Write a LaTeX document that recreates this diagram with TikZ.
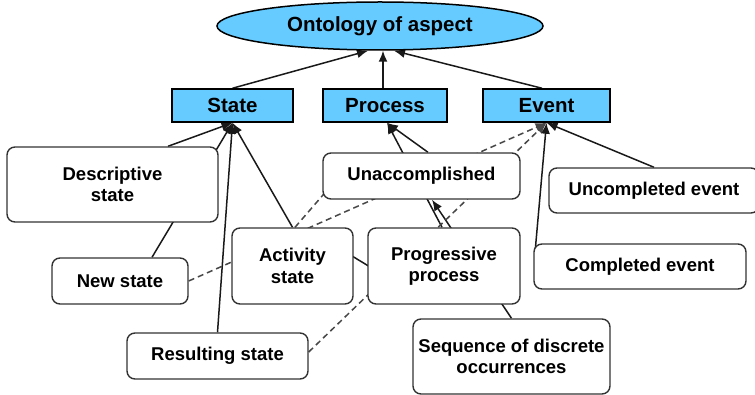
\documentclass[tikz,border=0pt]{standalone}
\usepackage{fontspec}
\setmainfont{Liberation Sans}
\usetikzlibrary{shapes.geometric,arrows.meta,calc}
\pgfdeclarelayer{bg}
\pgfsetlayers{bg,main}
\definecolor{skyfill}{RGB}{102,204,255}
\definecolor{inkline}{RGB}{25,25,25}
\begin{document}
\begin{tikzpicture}[x=1pt,y=-1pt,
  topic/.style={draw=black, line width=1.5pt, fill=skyfill, inner sep=0pt,
    font=\fontsize{20.5}{24}\selectfont\bfseries},
  concept/.style={draw=black!80, line width=1.4pt, fill=white, rounded corners=8pt,
    inner sep=0pt, align=center, font=\fontsize{18.5}{21.5}\selectfont\bfseries},
  isa/.style={draw=inkline, line width=1.5pt, -{Latex[length=11pt,width=9pt]}},
  plain/.style={draw=inkline, line width=1.5pt},
  weak/.style={draw=inkline!80, line width=1.5pt, dash pattern=on 6pt off 4pt},
  weakisa/.style={weak, -{Latex[length=11pt,width=9pt]}}
]
\useasboundingbox (0,0) rectangle (755,395);

% top of the hierarchy
\node[topic, ellipse, minimum width=326pt, minimum height=48pt] (onto) at (380,26) {Ontology of aspect};

% the three aspectual classes
\node[topic, minimum width=121pt, minimum height=33pt] (state)   at (232.5,105.5) {State};
\node[topic, minimum width=124pt, minimum height=33pt] (process) at (385,105.5)   {Process};
\node[topic, minimum width=127pt, minimum height=33pt] (event)   at (546.5,105.5) {Event};

% subclasses
\node[concept, minimum width=211pt, minimum height=75pt] (desc)     at (112.5,184.5) {Descriptive\\state};
\node[concept, minimum width=136pt, minimum height=46pt] (newst)    at (120,281)     {New state};
\node[concept, minimum width=121pt, minimum height=76pt] (activity) at (292.5,266)   {Activity\\state};
\node[concept, minimum width=181pt, minimum height=46pt] (result)   at (217.5,356)   {Resulting state};
\node[concept, minimum width=197pt, minimum height=46pt] (unacc)    at (421.5,176)   {Unaccomplished};
\node[concept, minimum width=152pt, minimum height=76pt] (prog)     at (444,266)     {Progressive\\process};
\node[concept, minimum width=210pt, minimum height=45pt] (uncomp)   at (654,190.5)   {Uncompleted event};
\node[concept, minimum width=212pt, minimum height=45pt] (comp)     at (640,266.5)   {Completed event};
\node[concept, minimum width=197pt, minimum height=75pt] (seq)      at (511.5,356.5) {Sequence of discrete\\occurrences};

\begin{pgfonlayer}{bg}
  % classes under the ontology
  \draw[isa] (state.north) -- ($(onto.south)+(-12,0)$);
  \draw[isa] ($(process.north)+(-2,0)$) -- ($(onto.south)+(3,0)$);
  \draw[isa] ($(event.north)+(-4.5,0)$) -- ($(onto.south)+(14,0)$);

  % states
  \draw[isa] ($(desc.north)+(55.5,0)$) -- (state.south);
  \draw[isa] ($(newst.north)+(32,0)$) -- (state.south);
  \draw[isa] (result.north) -- (state.south);
  \draw[isa] (activity.north) -- (state.south);

  % processes
  \draw[isa] ($(unacc.north)+(6.5,0)$) -- ($(process.south)+(2,0)$);
  \draw[isa] ($(prog.north)+(-2,0)$) -- ($(process.south)+(2,0)$);
  \draw[isa] (seq.north) -- ($(unacc.south)+(10.5,0)$);

  % events
  \draw[weakisa] (newst.east) -- (event.south);
  \draw[weakisa] ($(result.east)+(0,-4)$) -- (event.south);
  \draw[isa] (uncomp.north) -- (event.south);
  \draw[isa] ($(comp.north west)+(2,6)$) -- (event.south);

  % cross links
  \draw[weak] ($(activity.north)+(2.5,0)$) -- ($(unacc.south west)+(7,-12)$);
  \draw[plain] ($(activity.east)+(-5,-12)$) -- ($(prog.west)+(5,2.3)$);
\end{pgfonlayer}
\end{tikzpicture}
\end{document}
